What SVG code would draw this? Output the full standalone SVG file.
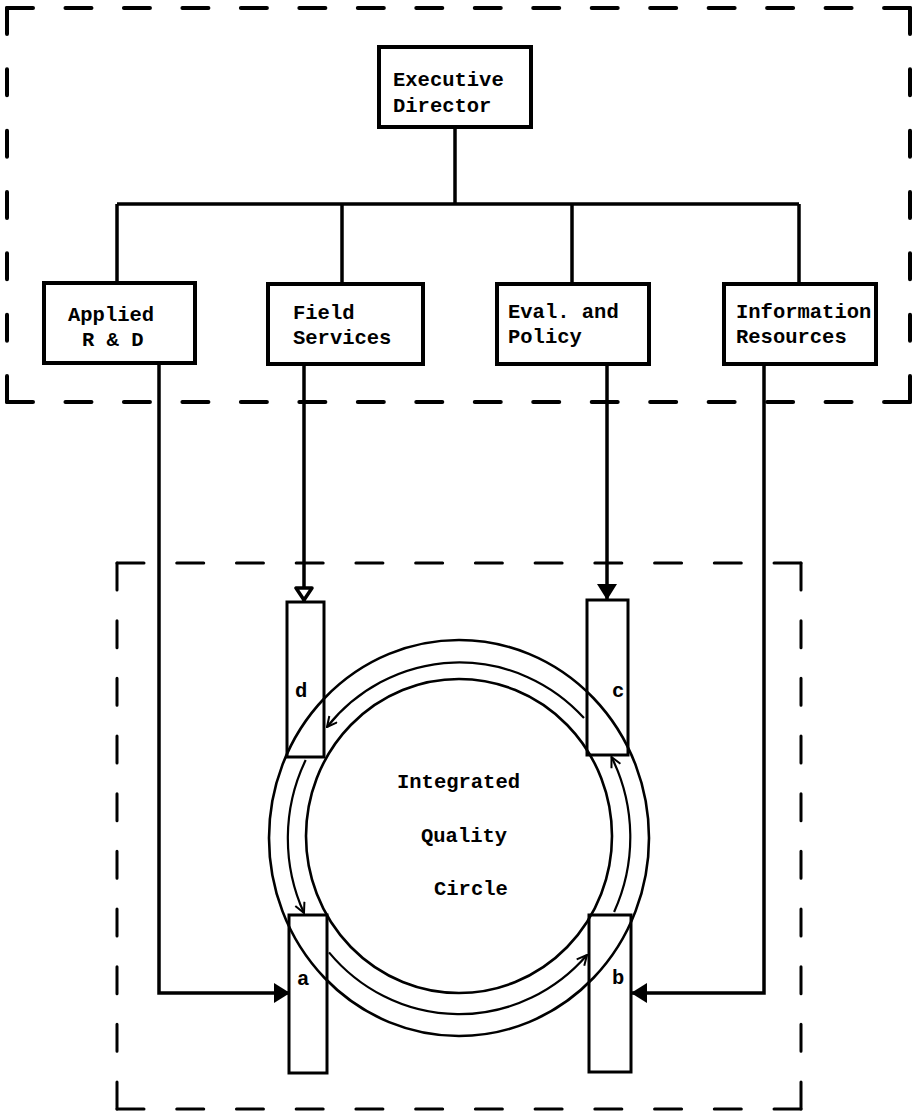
<svg xmlns="http://www.w3.org/2000/svg" width="912" height="1115" viewBox="0 0 912 1115">
<style>
  .box { fill: none; stroke: #000; stroke-width: 4; }
  .sbox { fill: none; stroke: #000; stroke-width: 3; }
  .t { font-family: "Liberation Mono", "Courier New", monospace; font-size: 20.5px; font-weight: bold; fill: #000; }
  .conn { fill: none; stroke: #000; stroke-width: 3.5; }
  .ring { fill: none; stroke: #000; stroke-width: 2.6; }
  .flow { fill: none; stroke: #000; stroke-width: 2.2; }
  .dashU { fill: none; stroke: #000; stroke-width: 4; stroke-linecap: round; }
  .dashL { fill: none; stroke: #000; stroke-width: 3; stroke-linecap: round; }
</style>
<defs>
  <marker id="filled" markerWidth="16" markerHeight="20" refX="15" refY="10" orient="auto" markerUnits="userSpaceOnUse" viewBox="0 0 16 20">
    <path d="M0,0 L16,10 L0,20 Z" fill="#000"/>
  </marker>
  <marker id="hollow" markerWidth="16" markerHeight="20" refX="15" refY="10" orient="auto" markerUnits="userSpaceOnUse" viewBox="0 0 16 20">
    <path d="M2,2 L14,10 L2,18 Z" fill="#fff" stroke="#000" stroke-width="3.5" stroke-linejoin="round"/>
  </marker>
  <marker id="vee" markerWidth="12" markerHeight="12" refX="11" refY="6" orient="auto" markerUnits="userSpaceOnUse" viewBox="0 0 12 12">
    <path d="M1,1 L11,6 L1,11" fill="none" stroke="#000" stroke-width="2"/>
  </marker>
</defs>

<g id="boundary-top">
  <line class="dashU" x1="7" y1="8" x2="910" y2="8" stroke-dasharray="26 32.47"/>
  <line class="dashU" x1="7" y1="402" x2="910" y2="402" stroke-dasharray="26 32.47"/>
  <line class="dashU" x1="7" y1="8" x2="7" y2="402" stroke-dasharray="26 35.33"/>
  <line class="dashU" x1="910" y1="8" x2="910" y2="402" stroke-dasharray="26 35.33"/>
</g>

<g id="boundary-bottom">
  <line class="dashL" x1="117" y1="563" x2="801" y2="563" stroke-dasharray="27 32.73"/>
  <line class="dashL" x1="117" y1="1109" x2="801" y2="1109" stroke-dasharray="27 32.73"/>
  <line class="dashL" x1="117" y1="563" x2="117" y2="1109" stroke-dasharray="27 30.67"/>
  <line class="dashL" x1="801" y1="563" x2="801" y2="1109" stroke-dasharray="27 30.67"/>
</g>

<g id="connectors">
  <path class="conn" d="M455,127 V204"/>
  <path class="conn" d="M117,204 H799"/>
  <path class="conn" d="M117,204 V283"/>
  <path class="conn" d="M342,204 V283"/>
  <path class="conn" d="M572,204 V283"/>
  <path class="conn" d="M799,204 V283"/>
  <path class="conn" d="M159,363 V993 H289" marker-end="url(#filled)"/>
  <path class="conn" d="M304,364 V601" marker-end="url(#hollow)"/>
  <path class="conn" d="M607,364 V599" marker-end="url(#filled)"/>
  <path class="conn" d="M764,364 V993 H632" marker-end="url(#filled)"/>
</g>

<g id="executive-director">
  <rect class="box" x="379" y="47" width="152" height="80"/>
  <text class="t" x="393" y="86">Executive</text>
  <text class="t" x="393" y="112">Director</text>
</g>

<g id="applied-rd">
  <rect class="box" x="44" y="283" width="151" height="80"/>
  <text class="t" x="68" y="321">Applied</text>
  <text class="t" x="82" y="346">R &amp; D</text>
</g>

<g id="field-services">
  <rect class="box" x="268" y="284" width="155" height="80"/>
  <text class="t" x="293" y="319">Field</text>
  <text class="t" x="293" y="344">Services</text>
</g>

<g id="eval-policy">
  <rect class="box" x="497" y="284" width="152" height="80"/>
  <text class="t" x="508" y="318">Eval. and</text>
  <text class="t" x="508" y="343">Policy</text>
</g>

<g id="information-resources">
  <rect class="box" x="724" y="284" width="152" height="80"/>
  <text class="t" x="736" y="318">Information</text>
  <text class="t" x="736" y="343">Resources</text>
</g>

<g id="integrated-quality-circle">
  <ellipse class="ring" cx="459" cy="838" rx="190" ry="198"/>
  <ellipse class="ring" cx="459" cy="836" rx="153" ry="157"/>
  <path class="flow" d="M584,718 A171,176 0 0 0 327,727" marker-end="url(#vee)"/>
  <path class="flow" d="M305.7,760 A171,176 0 0 0 304,913" marker-end="url(#vee)"/>
  <path class="flow" d="M329,952.4 A171,176 0 0 0 587,955" marker-end="url(#vee)"/>
  <path class="flow" d="M614.1,912 A171,176 0 0 0 611.5,757" marker-end="url(#vee)"/>
  <text class="t" x="397" y="788">Integrated</text>
  <text class="t" x="421" y="842">Quality</text>
  <text class="t" x="434" y="895">Circle</text>
</g>

<g id="node-d">
  <rect class="sbox" x="287" y="602" width="37" height="155"/>
  <text class="t" x="295" y="697">d</text>
</g>
<g id="node-c">
  <rect class="sbox" x="587" y="600" width="41" height="155"/>
  <text class="t" x="612" y="697">c</text>
</g>
<g id="node-a">
  <rect class="sbox" x="289" y="915" width="38" height="158"/>
  <text class="t" x="297" y="985">a</text>
</g>
<g id="node-b">
  <rect class="sbox" x="589" y="915" width="42" height="157"/>
  <text class="t" x="612" y="984">b</text>
</g>
</svg>
